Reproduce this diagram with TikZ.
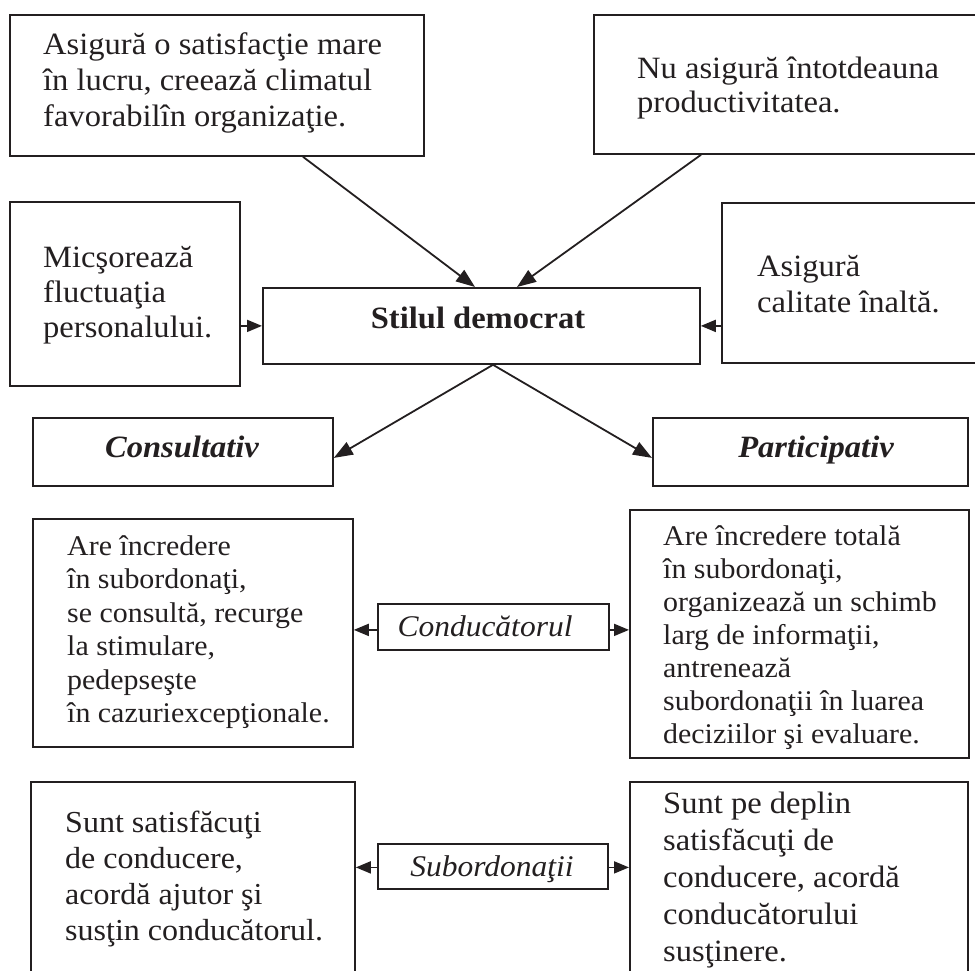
\documentclass[tikz,border=0pt]{standalone}
\usepackage{fontspec}
\setmainfont{Liberation Serif}[FakeStretch=1.05]
\usetikzlibrary{arrows.meta,calc}
\definecolor{ink}{RGB}{35,31,32}

% left-aligned multi-line text whose reference point is the first baseline
% #1 font size, #2 line distance, #3 lines
\newcommand{\boxtext}[3]{\parbox[t]{420pt}{\fontsize{#1}{#2}\selectfont\raggedright #3}}

\begin{document}
\begin{tikzpicture}[x=1pt,y=-1pt,
  frame/.style={draw=ink, line width=1.8pt, inner sep=0pt, anchor=north west},
  txt/.style={anchor=base west, inner sep=0pt, text=ink},
  ctr/.style={anchor=base, inner sep=0pt, text=ink},
  arr/.style={draw=ink, line width=1.8pt, -{Triangle[length=15pt,width=12pt]}},
  bigarr/.style={arr, -{Triangle[length=19pt,width=14pt]}}]

\useasboundingbox (0,0) rectangle (975,971);
\clip (0,0) rectangle (975,971);

% frames
\node[frame, minimum width=414pt, minimum height=141pt] (b1) at (9,14) {};
\node[frame, minimum width=400pt, minimum height=139pt] (b2) at (593,14) {};
\node[frame, minimum width=230pt, minimum height=184pt] (b3) at (9,201) {};
\node[frame, minimum width=437pt, minimum height=76pt] (sd) at (262,287) {};
\node[frame, minimum width=300pt, minimum height=160pt] (b5) at (721,202) {};
\node[frame, minimum width=300pt, minimum height=68pt] (cons) at (32,417) {};
\node[frame, minimum width=315pt, minimum height=68pt] (part) at (652,417) {};
\node[frame, minimum width=320pt, minimum height=228pt] (cd) at (32,518) {};
\node[frame, minimum width=231pt, minimum height=46pt] (cond) at (377,603) {};
\node[frame, minimum width=339pt, minimum height=248pt] (pd) at (629,509) {};
\node[frame, minimum width=324pt, minimum height=250pt] (subl) at (30,781) {};
\node[frame, minimum width=230pt, minimum height=45pt] (sub) at (377,843) {};
\node[frame, minimum width=338pt, minimum height=250pt] (subr) at (629,781) {};

% texts
\node[txt] (t1) at (43,55) {\boxtext{31}{36}{Asigură o satisfacţie mare\\în lucru, creează climatul\\favorabilîn organizaţie.}};
\node[txt] (t2) at (637,79) {\boxtext{31}{34}{Nu asigură întotdeauna\\productivitatea.}};
\node[txt] (t3) at (43,267) {\boxtext{31}{35}{Micşorează\\fluctuaţia\\personalului.}};
\node[txt] (t5) at (757,276) {\boxtext{31}{36}{Asigură\\calitate înaltă.}};
\node[ctr, font={\fontsize{31}{36}\selectfont\bfseries}] (tsd) at (478,328) {Stilul democrat};
\node[ctr, font={\fontsize{31}{36}\selectfont\bfseries\itshape}] (tcons) at (182,457) {Consultativ};
\node[ctr, font={\fontsize{31}{36}\selectfont\bfseries\itshape}] (tpart) at (816,457) {Participativ};
\node[txt] (tcd) at (67,555) {\boxtext{28.5}{33.5}{Are încredere\\în subordonaţi,\\se consultă, recurge\\la stimulare,\\pedepseşte\\în cazuriexcepţionale.}};
\node[ctr, font={\fontsize{30}{36}\selectfont\itshape}] (tcond) at (485,636) {Conducătorul};
\node[txt] (tpd) at (663,545) {\boxtext{28.5}{33}{Are încredere totală\\în subordonaţi,\\organizează un schimb\\larg de informaţii,\\antrenează\\subordonaţii în luarea\\deciziilor şi evaluare.}};
\node[txt] (tsubl) at (65,832) {\boxtext{30.5}{36}{Sunt satisfăcuţi\\de conducere,\\acordă ajutor şi\\susţin conducătorul.}};
\node[ctr, font={\fontsize{30}{36}\selectfont\itshape}] (tsub) at (492,876) {Subordonaţii};
\node[txt] (tsubr) at (663,813) {\boxtext{31}{37}{Sunt pe deplin\\satisfăcuţi de\\conducere, acordă\\conducătorului\\susţinere.}};

% connectors
\draw[bigarr] ([xshift=294pt]b1.south west) -- ([xshift=213pt]sd.north west);
\draw[bigarr] ([xshift=108pt]b2.south west) -- ([xshift=255pt]sd.north west);
\draw[arr] (sd.west -| b3.east) -- (sd.west);
\draw[arr] (sd.east -| b5.west) -- (sd.east);
\draw[bigarr] ([xshift=231pt]sd.south west) -- ([yshift=-6pt]cons.east);
\draw[bigarr] ([xshift=231pt]sd.south west) -- ([yshift=-6pt]part.west);
\draw[arr] ([yshift=-3pt]cond.west) -- ([yshift=-3pt]cd.east |- cond.west);
\draw[arr] ([yshift=-3pt]cond.east) -- ([yshift=-3pt]pd.west |- cond.east);
\draw[arr] ([yshift=-1pt]sub.west) -- ([yshift=-1pt]subl.east |- sub.west);
\draw[arr] ([yshift=-1pt]sub.east) -- ([yshift=-1pt]subr.west |- sub.east);
\end{tikzpicture}
\end{document}
